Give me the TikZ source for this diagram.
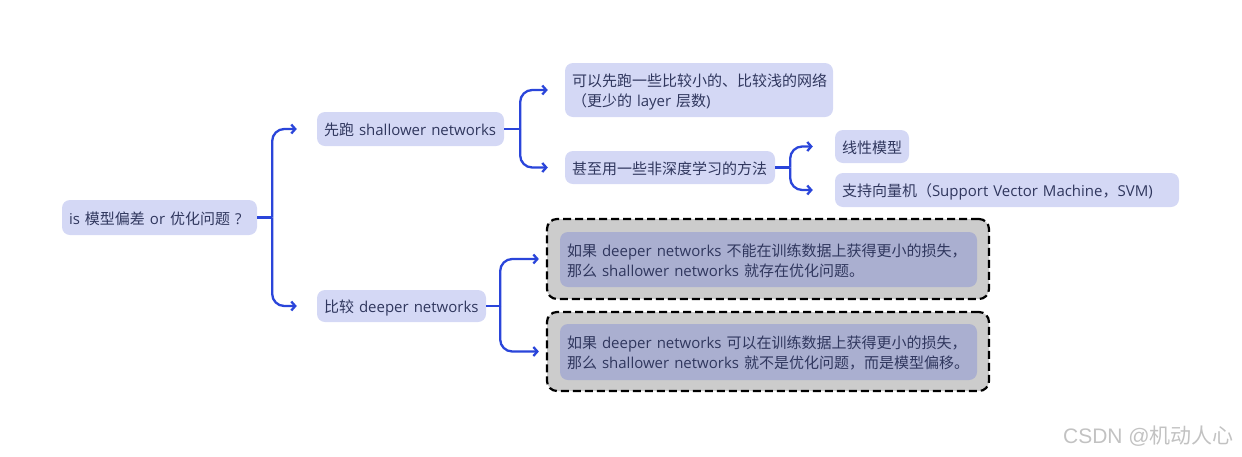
\documentclass[tikz,border=0pt]{standalone}
\usepackage{fontspec}
\setmainfont{Noto Sans CJK SC}
\newfontfamily\latinf{Open Sans}
\newfontfamily\arialf{Liberation Sans}
\newcommand\enf[1]{{\latinf #1}}
\usetikzlibrary{arrows.meta,calc}
\definecolor{nodefill}{HTML}{D4D8F5}
\definecolor{txt}{HTML}{30375E}
\definecolor{linkblue}{HTML}{2A45DA}
\definecolor{outerfill}{HTML}{CCCCCC}
\definecolor{innerfill}{HTML}{AAAFD0}
\definecolor{wm}{HTML}{C2C2C2}
\begin{document}
\begin{tikzpicture}[x=1pt,y=-1pt,
  topic/.style={fill=nodefill, rounded corners=8pt, text=txt, inner xsep=7pt, inner ysep=0pt,
    font=\fontsize{15}{20}\selectfont, align=left, text height=17pt, text depth=4pt},
  twolines/.style={text height=17pt, text depth=24pt},
  outerbox/.style={fill=outerfill, draw=black, line width=2.2pt, dash pattern=on 8pt off 4pt,
    rounded corners=10pt, inner sep=0pt},
  innerbox/.style={fill=innerfill, rounded corners=8pt, text=txt, inner xsep=7pt, inner ysep=0pt,
    font=\fontsize{15}{20}\selectfont, align=left, twolines},
  link/.style={draw=linkblue, line width=2.3pt, rounded corners=12pt},
  linkarrow/.style={link, -{Straight Barb[length=4pt,width=9pt]}}
]
\useasboundingbox (0,0) rectangle (1242,456);

% nodes
\node[topic, minimum width=195pt, minimum height=35pt, text width=181pt] (root) at (159.5,217.5)
  {\enf{is }模型偏差\enf{ or }优化问题\enf{ ?}};
\node[topic, minimum width=187pt, minimum height=34pt, text width=173pt] (shallow) at (410.5,129)
  {先跑\enf{ shallower networks}};
\node[topic, minimum width=169pt, minimum height=32pt, text width=155pt] (deeper) at (401.5,306)
  {比较\enf{ deeper networks}};
\node[topic, twolines, minimum width=268pt, minimum height=54pt, text width=254pt] (small) at (699,90)
  {可以先跑一些比较小的、比较浅的网络\\（更少的\enf{ layer }层数\enf{)}};
\node[topic, minimum width=210pt, minimum height=33pt, text width=196pt] (nondeep) at (670,167.5)
  {甚至用一些非深度学习的方法};
\node[topic, minimum width=74pt, minimum height=33pt, text width=60pt] (linear) at (872,146.5)
  {线性模型};
\node[topic, minimum width=344pt, minimum height=34pt, text width=330pt] (svm) at (1007,190)
  {支持向量机（\enf{Support Vector Machine}，\enf{SVM)}};

\node[outerbox, minimum width=442pt, minimum height=80pt] (out1) at (768,259) {};
\node[innerbox, minimum width=417pt, minimum height=55pt, text width=403pt] (in1) at (768.5,259.5)
  {如果\enf{ deeper networks }不能在训练数据上获得更小的损失，\\那么\enf{ shallower networks }就存在优化问题。};
\node[outerbox, minimum width=442pt, minimum height=79pt] (out2) at (768,351.5) {};
\node[innerbox, minimum width=417pt, minimum height=56pt, text width=403pt] (in2) at (768.5,352)
  {如果\enf{ deeper networks }可以在训练数据上获得更小的损失，\\那么\enf{ shallower networks }就不是优化问题，而是模型偏移。};

\node[text=wm, anchor=east, font=\fontsize{21}{22}\selectfont, inner sep=0pt] (mark) at (1234,436)
  {{\arialf CSDN @}机动人心};

% connectors
\draw[link] (root.east) -- ++(15,0) coordinate (r1);
\draw[linkarrow] (r1) |- ($(shallow.west)+(-20,0)$);
\draw[linkarrow] (r1) |- ($(deeper.west)+(-20,0)$);

\draw[link] (shallow.east) -- ++(16,0) coordinate (s1);
\draw[linkarrow] (s1) |- ($(small.west)+(-17,0)$);
\draw[linkarrow] (s1) |- ($(nondeep.west)+(-17,0)$);

\draw[link] (nondeep.east) -- ++(15,0) coordinate (n1);
\draw[linkarrow] (n1) |- ($(linear.west)+(-22,0)$);
\draw[linkarrow] (n1) |- ($(svm.west)+(-22,0)$);

\draw[link] (deeper.east) -- ++(14,0) coordinate (d1);
\draw[linkarrow] (d1) |- ($(out1.west)+(-7,0)$);
\draw[linkarrow] (d1) |- ($(out2.west)+(-7,0)$);
\end{tikzpicture}
\end{document}
